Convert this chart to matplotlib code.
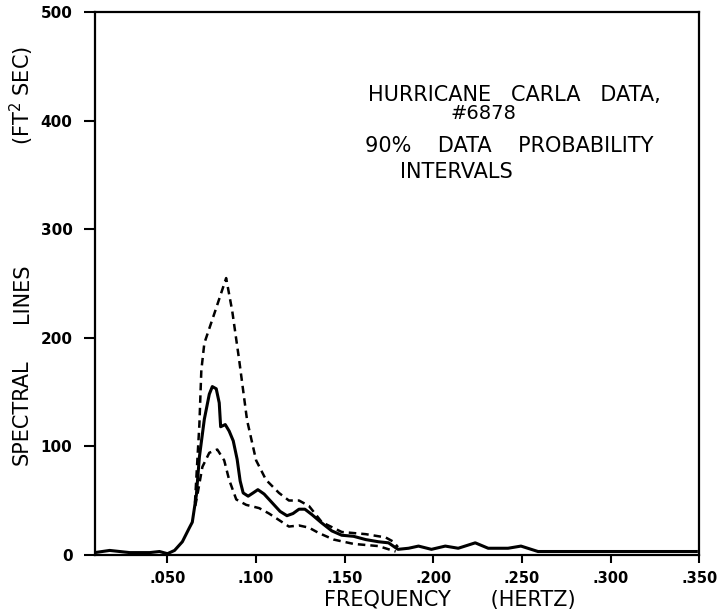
import numpy as np
import matplotlib.pyplot as plt

# ============== data =============

# 频率 / 谱值（实线：估计值）
FREQ_MEAN = [0.009, 0.0174, 0.0287, 0.040, 0.0455, 0.050, 0.054, 0.0584, 0.0624, 0.064, 0.0663,
             0.068, 0.0708, 0.0736, 0.0753, 0.0775, 0.0792, 0.080, 0.0826, 0.0848, 0.0871, 0.0893,
             0.091, 0.0927, 0.0955, 0.0983, 0.101, 0.1045, 0.109, 0.1135, 0.1174, 0.1208, 0.1242,
             0.1275, 0.1315, 0.1365, 0.1427, 0.1483, 0.155, 0.1618, 0.169, 0.1747, 0.180, 0.186,
             0.1916, 0.1989, 0.2067, 0.214, 0.2236, 0.2309, 0.2421, 0.2494, 0.259, 0.270, 0.2927,
             0.3208, 0.3483]
SPEC_MEAN = [2, 4, 2, 2, 3, 1, 4, 12, 25, 30, 55,
             90, 125, 148, 155, 153, 140, 118, 120, 114, 105, 88,
             68, 57, 54, 57, 60, 56, 48, 40, 36, 38, 42,
             42, 37, 30, 22, 18, 17, 14, 12, 11, 5, 6,
             8, 5, 8, 6, 11, 6, 6, 8, 3, 3, 3,
             3, 3]

# 90% 区间上界
FREQ_UPPER = [0.0655, 0.068, 0.0691, 0.0708, 0.077, 0.0831, 0.0865, 0.0904, 0.0949, 0.100, 0.1056,
              0.1129, 0.1185, 0.1242, 0.1298, 0.1371, 0.1483, 0.1618, 0.173, 0.1775, 0.180]
SPEC_UPPER = [48, 120, 170, 195, 225, 255, 225, 180, 124, 87, 69,
              57, 50, 50, 45, 30, 21, 19, 16, 12, 7]

# 90% 区间下界
FREQ_LOWER = [0.0657, 0.0674, 0.0697, 0.0736, 0.0781, 0.082, 0.0848, 0.0888, 0.0944, 0.1017, 0.1073,
              0.1129, 0.1185, 0.1242, 0.1298, 0.1354, 0.1438, 0.155, 0.169, 0.1787]
SPEC_LOWER = [45, 60, 81, 94, 97, 87, 69, 51, 46, 43, 38,
              32, 26, 27, 25, 20, 14, 10, 8, 3]

X_TICKS = [0.050, 0.100, 0.150, 0.200, 0.250, 0.300, 0.350]
X_TICK_LABELS = [".050", ".100", ".150", ".200", ".250", ".300", ".350"]
Y_TICKS = [0, 100, 200, 300, 400, 500]

# ============== style =============

W, H = 718, 613
LINE_COLOR = "black"
MEAN_LW = 2.2
BOUND_LW = 1.8
BOUND_DASHES = (3, 2)
X_TICK_FONT = dict(family="DejaVu Sans", weight="bold", size=10.5)
Y_TICK_FONT = dict(family="DejaVu Sans", weight="bold", size=11)
LABEL_FONT = dict(family="DejaVu Sans", size=15)


# 像素坐标 -> figure 坐标
def figPos(px, py):
    return px / W, 1 - py / H


# ============== plot =============

fig = plt.figure(figsize=(W / 100, H / 100), dpi=100)
ax = fig.add_axes([0.132, 0.095, 0.842, 0.885])

ax.plot(FREQ_MEAN, SPEC_MEAN, color=LINE_COLOR, linewidth=MEAN_LW, solid_joinstyle="round")
ax.plot(FREQ_UPPER, SPEC_UPPER, color=LINE_COLOR, linewidth=BOUND_LW, dashes=BOUND_DASHES)
ax.plot(FREQ_LOWER, SPEC_LOWER, color=LINE_COLOR, linewidth=BOUND_LW, dashes=BOUND_DASHES)

ax.set_xlim(0.009, 0.350)
ax.set_ylim(0, 500)

ax.set_xticks(X_TICKS)
ax.set_xticklabels(X_TICK_LABELS, fontdict=X_TICK_FONT)
ax.set_yticks(Y_TICKS)
ax.set_yticklabels([str(v) for v in Y_TICKS], fontdict=Y_TICK_FONT)
ax.tick_params(axis="x", direction="out", length=6, width=1.5, pad=6)
ax.tick_params(axis="y", direction="out", length=8, width=1.5, pad=8)

for spine in ax.spines.values():
    spine.set_linewidth(1.6)

# 坐标轴标题（纵轴标题分三段放）
fig.text(*figPos(22, 412), "SPECTRAL", rotation=90, ha="center", va="center", **LABEL_FONT)
fig.text(*figPos(22, 293), "LINES", rotation=90, ha="center", va="center", **LABEL_FONT)
fig.text(*figPos(22, 95), "(FT$^2$ SEC)", rotation=90, ha="center", va="center", **LABEL_FONT)
fig.text(*figPos(450, 600), "FREQUENCY      (HERTZ)",
         ha="center", va="center", **LABEL_FONT)

# 注释文字
fig.text(*figPos(368, 95), "HURRICANE   CARLA   DATA,", ha="left", va="center", **LABEL_FONT)
fig.text(*figPos(450, 113), "#6878", ha="left", va="center", family="DejaVu Sans", size=14)
fig.text(*figPos(365, 146), "90%    DATA    PROBABILITY", ha="left", va="center", **LABEL_FONT)
fig.text(*figPos(400, 172), "INTERVALS", ha="left", va="center", **LABEL_FONT)

plt.savefig("out.png", dpi=100)
